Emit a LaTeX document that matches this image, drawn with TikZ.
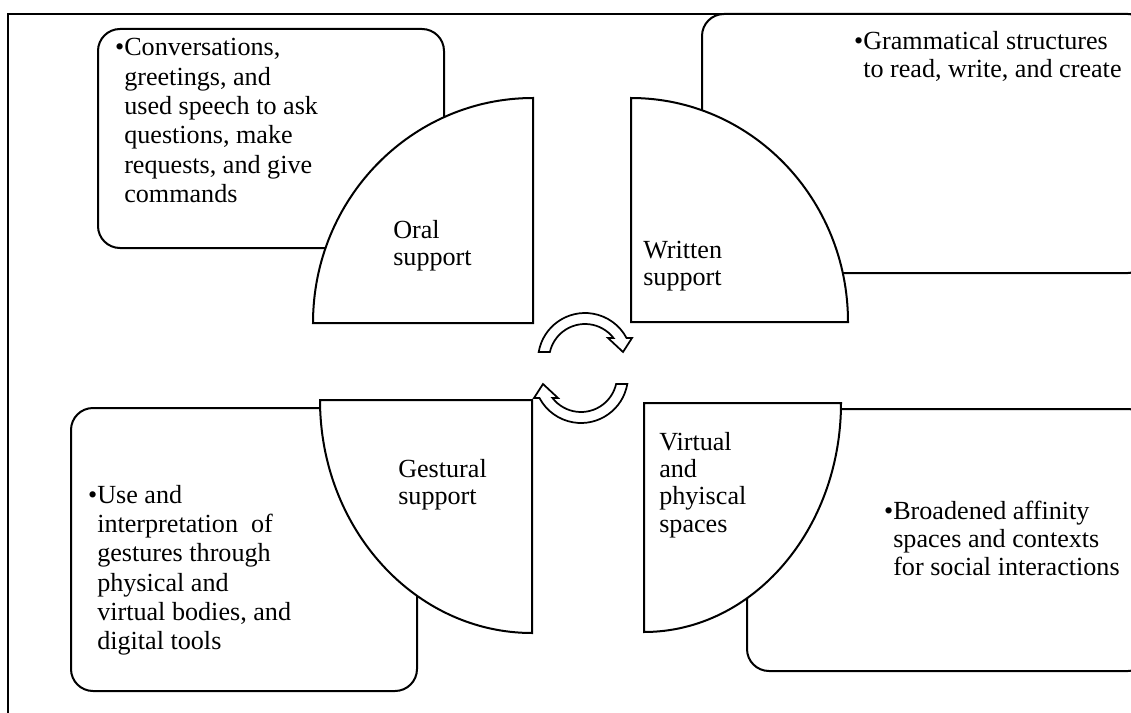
\documentclass[tikz,border=0pt]{standalone}
\usepackage{fontspec}
\setmainfont{Liberation Serif}
% multi-line text block whose first baseline is the node's base
\newcommand\linesat[2]{\parbox[t]{600pt}{\setlength\baselineskip{#1}\leavevmode#2}}
\begin{document}
\begin{tikzpicture}[x=0.75pt,y=0.75pt,
  outline/.style={draw=black,line width=1.5pt,fill=white,line join=miter},
  textbox/.style={outline,rounded corners=16.5pt},
  cyclearrow/.style={draw=black,line width=1.3pt,fill=white,line join=miter},
  txt/.style={anchor=base west,inner sep=0pt,font=\fontsize{19.6pt}{20.5pt}\selectfont}
]
\useasboundingbox (0,0) rectangle (1131,-713);
\clip (0,0) rectangle (1131,-713);

% outer frame
\draw[line width=1.2pt] (8,-14) rectangle (1170,-760);

% rounded text boxes
\draw[textbox] (98,-29) rectangle (444,-248);
\draw[textbox] (702,-14) rectangle (1150,-273);
\draw[textbox] (71,-408) rectangle (417,-691);
\draw[textbox] (747,-409) rectangle (1150,-671);

% quarter-round labels
\draw[outline] (533,-323) -- (313,-323)
  arc[start angle=180,end angle=90,x radius=220,y radius=225] -- cycle;
\draw[outline] (631,-322) -- (631,-98)
  arc[start angle=90,end angle=0,x radius=217,y radius=224] -- cycle;
\draw[outline] (532,-400) -- (320,-400)
  arc[start angle=180,end angle=270,x radius=212,y radius=233] -- cycle;
\draw[outline] (644,-403) -- (841,-403)
  arc[start angle=0,end angle=-90,x radius=197,y radius=229] -- cycle;

% circular arrows in the middle
\begin{scope}[shift={(585,-360)}]
  \draw[cyclearrow] (170.2:47) arc[start angle=170.2,end angle=27.9,radius=47]
    -- (47,22) -- (38,8) -- (23,22) -- (37.7:36)
    arc[start angle=37.7,end angle=167.2,radius=36] -- cycle;
\end{scope}
\begin{scope}[shift={(581,-376)},rotate=180]
  \draw[cyclearrow] (170.2:47) arc[start angle=170.2,end angle=27.9,radius=47]
    -- (47,22) -- (38,8) -- (23,22) -- (37.7:36)
    arc[start angle=37.7,end angle=167.2,radius=36] -- cycle;
\end{scope}

% labels in the quarter-rounds
\node[txt] (oral) at (393,-238) {\linesat{20.5pt}{Oral\\support}};
\node[txt] (written) at (643,-258) {\linesat{20.5pt}{Written\\support}};
\node[txt] (gestural) at (398,-477) {\linesat{20.5pt}{Gestural\\support}};
\node[txt] (virtual) at (659,-450) {\linesat{20.5pt}{Virtual\\and\\phyiscal\\spaces}};

% bullet texts in the boxes
\node[txt] (oraltext) at (124,-56) {\linesat{22pt}{\llap{•}Conversations,\\greetings, and\\used speech to ask\\questions, make\\requests, and give\\commands}};
\node[txt] (writtentext) at (863,-50) {\linesat{20.5pt}{\llap{•}Grammatical structures\\to read, write, and create}};
\node[txt] (gesturaltext) at (97,-503) {\linesat{22pt}{\llap{•}Use and\\interpretation\ \ of\\gestures through\\physical and\\virtual bodies, and\\digital tools}};
\node[txt] (virtualtext) at (893,-519) {\linesat{21pt}{\llap{•}Broadened affinity\\spaces and contexts\\for social interactions}};
\end{tikzpicture}
\end{document}
